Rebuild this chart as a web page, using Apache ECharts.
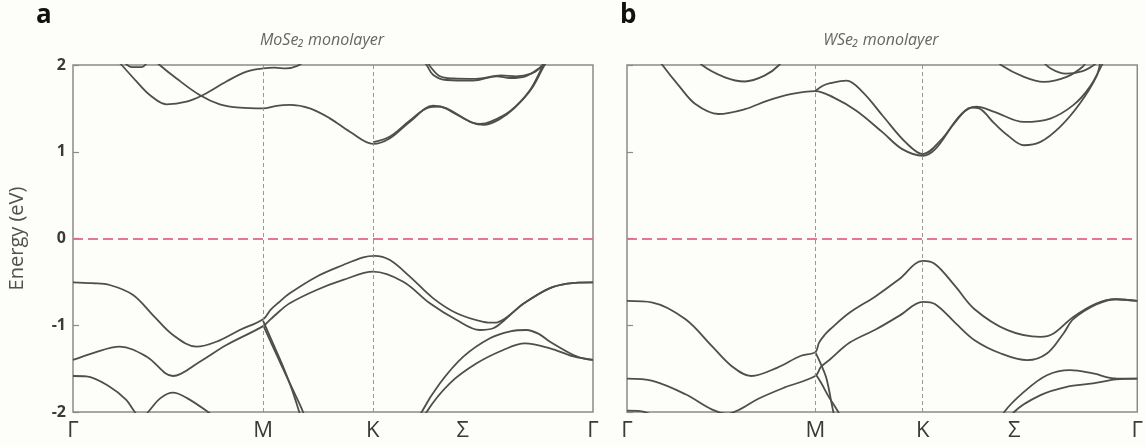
<!DOCTYPE html>
<html>
<head>
<meta charset="utf-8">
<script src="https://cdn.jsdelivr.net/npm/echarts@6/dist/echarts.min.js"></script>
<style>
html,body{margin:0;padding:0;background:#fdfdf9;}
#c{width:1146px;height:447px;}
</style>
</head>
<body>
<div id="c"></div>
<script>
// ---- high-symmetry k positions and tick labels ----
const kLabels = ['Γ', 'M', 'K', 'Σ', 'Γ'];
const kPosMo = [0, 1, 1.577, 2.05, 2.735];
const kPosW = [0, 1, 1.571, 2.056, 2.71];
const eTicks = [-2, -1, 0, 1, 2];

// ---- MoSe2 monolayer bands [k, E(eV)] ----
const moC1 = [[0.22,2.08],[0.256,2.0],[0.334,1.81],[0.404,1.654],[0.491,1.547],[0.597,1.577],[0.684,1.654],[0.807,1.81],[0.913,1.923],[1.0,1.96],[1.06,1.97],[1.12,1.96],[1.18,1.99],[1.22,2.05]];
const moC2 = [[0.42,2.08],[0.456,2.0],[0.543,1.847],[0.666,1.654],[0.772,1.547],[0.877,1.508],[1.0,1.50],[1.07,1.53],[1.14,1.54],[1.246,1.50],[1.351,1.385],[1.456,1.231],[1.579,1.09],[1.667,1.155],[1.772,1.346],[1.895,1.53],[1.965,1.50],[2.088,1.346],[2.14,1.32],[2.2,1.35],[2.3,1.47],[2.4,1.70],[2.47,1.98],[2.49,2.05]];
const moC3 = [[1.579,1.11],[1.667,1.175],[1.772,1.36],[1.87,1.51],[1.93,1.52],[2.0,1.45],[2.1,1.335],[2.16,1.31],[2.24,1.37],[2.32,1.50],[2.41,1.72],[2.475,1.98],[2.495,2.05]];
const moC4 = [[1.84,2.06],[1.86,2.0],[1.895,1.885],[1.965,1.827],[2.105,1.82],[2.228,1.87],[2.3,1.85],[2.38,1.87],[2.45,1.96],[2.48,2.03]];
const moC5 = [[1.86,2.06],[1.88,1.98],[1.93,1.87],[2.0,1.845],[2.12,1.84],[2.25,1.88],[2.33,1.87],[2.41,1.9],[2.46,1.97],[2.48,2.03]];
const moC6 = [[0.27,2.03],[0.31,1.975],[0.36,1.975],[0.39,2.03]];
const moV1 = [[0,-0.505],[0.1,-0.515],[0.193,-0.536],[0.316,-0.651],[0.42,-0.882],[0.526,-1.112],[0.649,-1.247],[0.754,-1.19],[0.877,-1.055],[1.0,-0.93],[1.04,-0.82],[1.08,-0.74],[1.14,-0.632],[1.281,-0.44],[1.421,-0.305],[1.526,-0.217],[1.585,-0.20],[1.667,-0.248],[1.772,-0.44],[1.895,-0.69],[2.018,-0.862],[2.158,-0.96],[2.22,-0.97],[2.27,-0.925],[2.32,-0.84],[2.37,-0.75],[2.5,-0.58],[2.6,-0.52],[2.735,-0.505]];
const moV2 = [[0,-1.40],[0.105,-1.32],[0.246,-1.247],[0.386,-1.36],[0.526,-1.585],[0.667,-1.42],[0.807,-1.228],[1.0,-1.01],[1.04,-0.93],[1.08,-0.85],[1.14,-0.747],[1.281,-0.594],[1.421,-0.478],[1.579,-0.382],[1.737,-0.498],[1.877,-0.747],[2.018,-0.94],[2.14,-1.055],[2.21,-1.035],[2.27,-0.94],[2.32,-0.84],[2.37,-0.75],[2.5,-0.58],[2.6,-0.52],[2.735,-0.505]];
const moV3 = [[0,-1.585],[0.07,-1.59],[0.193,-1.708],[0.28,-1.86],[0.325,-2.0],[0.36,-2.08],[0.395,-2.0],[0.46,-1.84],[0.526,-1.777],[0.6,-1.84],[0.71,-2.0],[0.78,-2.12]];
const moS1 = [[1.0,-0.95],[1.05,-1.2],[1.1,-1.45],[1.15,-1.73],[1.19,-2.0],[1.22,-2.2]];
const moS2 = [[1.0,-1.0],[1.05,-1.24],[1.1,-1.48],[1.16,-1.76],[1.21,-2.0],[1.24,-2.2]];
const moL1 = [[1.80,-2.2],[1.834,-2.0],[1.93,-1.669],[2.053,-1.362],[2.193,-1.15],[2.3,-1.07],[2.385,-1.055],[2.45,-1.10],[2.509,-1.19],[2.632,-1.343],[2.69,-1.385],[2.735,-1.40]];
const moL2 = [[1.83,-2.2],[1.86,-2.0],[1.982,-1.669],[2.123,-1.439],[2.263,-1.285],[2.377,-1.21],[2.509,-1.266],[2.632,-1.36],[2.735,-1.40]];

// ---- WSe2 monolayer bands [k, E(eV)] ----
const wC1 = [[0.16,2.1],[0.188,2.0],[0.276,1.76],[0.363,1.55],[0.485,1.435],[0.625,1.49],[0.747,1.59],[0.869,1.665],[1.0,1.70],[1.096,1.627],[1.218,1.473],[1.358,1.223],[1.462,1.03],[1.571,0.954],[1.637,1.03],[1.742,1.338],[1.829,1.51],[1.87,1.50],[1.951,1.326],[2.021,1.19],[2.108,1.075],[2.196,1.114],[2.3,1.287],[2.405,1.556],[2.492,1.863],[2.515,2.05]];
const wC2 = [[1.0,1.70],[1.04,1.76],[1.079,1.79],[1.166,1.82],[1.253,1.685],[1.358,1.415],[1.48,1.108],[1.571,0.973],[1.672,1.146],[1.777,1.435],[1.855,1.52],[1.951,1.46],[2.108,1.344],[2.248,1.383],[2.37,1.537],[2.458,1.748],[2.527,2.02],[2.54,2.08]];
const wC3 = [[0.37,2.1],[0.398,2.0],[0.52,1.858],[0.625,1.81],[0.73,1.877],[0.808,2.0],[0.83,2.1]];
const wC4 = [[1.97,2.06],[1.986,2.0],[2.108,1.863],[2.213,1.805],[2.335,1.863],[2.42,1.98],[2.44,2.05]];
const wC5 = [[2.2,2.06],[2.25,1.96],[2.33,1.9],[2.42,1.93],[2.48,2.0],[2.5,2.05]];
const wV1 = [[0,-0.72],[0.136,-0.738],[0.311,-0.931],[0.45,-1.238],[0.555,-1.469],[0.66,-1.585],[0.799,-1.488],[0.921,-1.354],[1.0,-1.31],[1.02,-1.2],[1.05,-1.11],[1.079,-1.046],[1.183,-0.854],[1.323,-0.662],[1.445,-0.469],[1.571,-0.258],[1.637,-0.296],[1.742,-0.546],[1.846,-0.815],[2.021,-1.057],[2.196,-1.134],[2.265,-1.095],[2.37,-0.904],[2.492,-0.749],[2.597,-0.70],[2.71,-0.72]];
const wV2 = [[0,-1.615],[0.136,-1.642],[0.311,-1.796],[0.45,-1.97],[0.53,-2.02],[0.6,-1.97],[0.695,-1.85],[0.834,-1.72],[1.0,-1.585],[1.03,-1.48],[1.079,-1.392],[1.183,-1.2],[1.323,-1.046],[1.445,-0.892],[1.571,-0.731],[1.637,-0.758],[1.742,-0.969],[1.846,-1.172],[1.986,-1.326],[2.126,-1.403],[2.23,-1.326],[2.318,-1.095],[2.37,-0.93],[2.492,-0.76],[2.597,-0.70],[2.71,-0.72]];
const wV3 = [[0,-1.985],[0.07,-1.99],[0.14,-2.04]];
const wS1 = [[1.0,-1.31],[1.03,-1.45],[1.06,-1.62],[1.096,-2.0],[1.11,-2.1]];
const wS2 = [[1.0,-1.56],[1.03,-1.66],[1.07,-1.82],[1.122,-2.0],[1.14,-2.1]];
const wL1 = [[1.97,-2.2],[2.004,-2.0],[2.108,-1.768],[2.23,-1.576],[2.353,-1.518],[2.475,-1.556],[2.597,-1.614],[2.71,-1.615]];
const wL2 = [[2.02,-2.2],[2.056,-2.0],[2.196,-1.806],[2.335,-1.71],[2.475,-1.671],[2.597,-1.625],[2.71,-1.615]];

const bandsMo = [moC1, moC2, moC3, moC4, moC5, moC6, moV1, moV2, moV3, moS1, moS2, moL1, moL2];
const bandsW = [wC1, wC2, wC3, wC4, wC5, wV1, wV2, wV3, wS1, wS2, wL1, wL2];

const FONT = '"Open Sans", "Noto Sans", sans-serif';
const bandColor = '#4e4e4e';

function xAxisFor(idx, kpos) {
  return {
    type: 'value', gridIndex: idx, min: 0, max: kpos[kpos.length - 1],
    axisLine: { show: false }, axisTick: { show: false }, splitLine: { show: false },
    axisLabel: {
      customValues: kpos,
      formatter: function (v) {
        let best = 0;
        for (let i = 0; i < kpos.length; i++) if (Math.abs(kpos[i] - v) < Math.abs(kpos[best] - v)) best = i;
        return kLabels[best];
      },
      fontFamily: FONT, fontSize: 22, color: '#3a3a3a', margin: 8
    }
  };
}
function yAxisFor(idx, showLabels) {
  return {
    type: 'value', gridIndex: idx, min: eTicks[0], max: eTicks[eTicks.length - 1], interval: 1,
    axisLine: { show: false },
    axisTick: { show: true, inside: true, length: 6, lineStyle: { color: '#8a8a8a', width: 1.2 } },
    splitLine: { show: false },
    axisLabel: { show: showLabels, fontFamily: FONT, fontWeight: 'bold', fontSize: 16, color: '#3a3a3a', margin: 7 },
    name: showLabels ? 'Energy (eV)' : '',
    nameLocation: 'middle', nameGap: 46,
    nameTextStyle: { fontFamily: FONT, fontSize: 20, color: '#505050' }
  };
}
function markLinesFor(kpos) {
  return {
    silent: true, symbol: 'none', animation: false,
    label: { show: false },
    data: [
      { xAxis: kpos[1], lineStyle: { color: '#8c8c8c', width: 0.9, type: [4, 3] } },
      { xAxis: kpos[2], lineStyle: { color: '#8c8c8c', width: 0.9, type: [4, 3] } },
      { yAxis: 0, lineStyle: { color: '#e06890', width: 1.8, type: [10, 5], opacity: 0.9 } }
    ]
  };
}
function seriesFor(bands, idx, kpos) {
  return bands.map((b, i) => ({
    type: 'line', xAxisIndex: idx, yAxisIndex: idx, data: b,
    smooth: 0.35, showSymbol: false, symbol: 'none', clip: true,
    lineStyle: { color: bandColor, width: 1.8 },
    markLine: i === 0 ? markLinesFor(kpos) : undefined,
    z: 3
  }));
}

const chart = echarts.init(document.getElementById('c'), null, { renderer: 'canvas' });
chart.setOption({
  animation: false,
  backgroundColor: '#fdfdf9',
  grid: [
    { left: 73, top: 65, width: 520, height: 347, show: true, borderColor: '#8a8a8a', borderWidth: 1.5, backgroundColor: 'transparent' },
    { left: 627, top: 65, width: 518, height: 347, show: true, borderColor: '#8a8a8a', borderWidth: 1.5, backgroundColor: 'transparent' }
  ],
  xAxis: [xAxisFor(0, kPosMo), xAxisFor(1, kPosW)],
  yAxis: [yAxisFor(0, true), yAxisFor(1, false)],
  series: seriesFor(bandsMo, 0, kPosMo).concat(seriesFor(bandsW, 1, kPosW)),
  graphic: [
    { type: 'text', left: 36, top: 3, style: { text: 'a', fontFamily: FONT, fontWeight: 'bold', fontSize: 26, fill: '#111' } },
    { type: 'text', left: 620, top: 3, style: { text: 'b', fontFamily: FONT, fontWeight: 'bold', fontSize: 26, fill: '#111' } },
    { type: 'text', x: 322, y: 40, style: { text: 'MoSe₂ monolayer', fontFamily: FONT, fontStyle: 'italic', fontSize: 16, fill: '#666', align: 'center', verticalAlign: 'middle' } },
    { type: 'text', x: 881, y: 40, style: { text: 'WSe₂ monolayer', fontFamily: FONT, fontStyle: 'italic', fontSize: 16, fill: '#666', align: 'center', verticalAlign: 'middle' } }
  ]
});
</script>
</body>
</html>
